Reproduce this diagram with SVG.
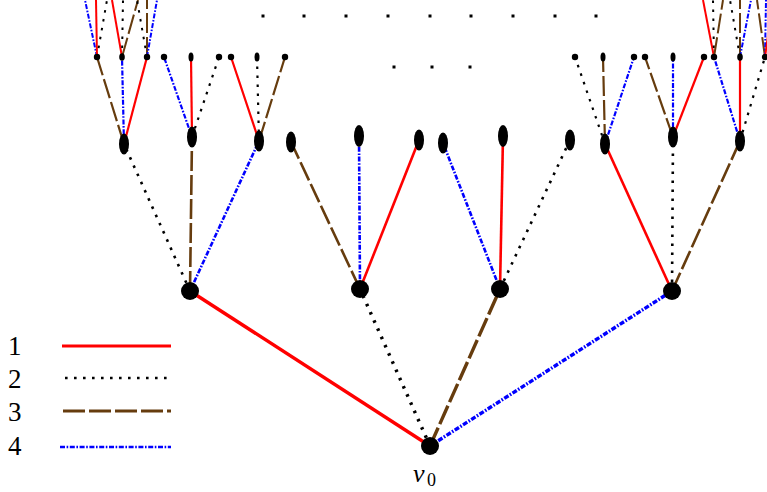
<svg xmlns="http://www.w3.org/2000/svg" width="767" height="492" viewBox="0 0 767 492">
<style>
.e{fill:none}
.red{stroke:#ff0000}
.dot{stroke:#000;stroke-dasharray:2.6 6.4}
.brn{stroke:#663c0e;stroke-dasharray:20 4}
.blu{stroke:#0000ff;stroke-dasharray:5 1.6 1.6 1.6}
.l1{stroke-width:3.4}
.l2{stroke-width:2.6}
.l3{stroke-width:2.2}
.l4{stroke-width:2}
.n{fill:#000}
</style>
<rect width="767" height="492" fill="#fff"/>
<g id="connectors" class="e">
<line class="red l1" x1="430" y1="446" x2="190" y2="291"/>
<line class="dot l1" x1="430" y1="446" x2="360" y2="289"/>
<line class="brn l1" x1="430" y1="446" x2="500" y2="289"/>
<line class="blu l1" x1="430" y1="446" x2="672" y2="291"/>
<line class="dot l2" x1="190" y1="291" x2="124" y2="144"/>
<line class="brn l2" x1="190" y1="291" x2="192" y2="137"/>
<line class="blu l2" x1="190" y1="291" x2="259" y2="141"/>
<line class="brn l2" x1="360" y1="289" x2="291" y2="142"/>
<line class="blu l2" x1="360" y1="289" x2="359" y2="136"/>
<line class="red l2" x1="360" y1="289" x2="419" y2="140"/>
<line class="blu l2" x1="500" y1="289" x2="443" y2="143"/>
<line class="red l2" x1="500" y1="289" x2="503" y2="136"/>
<line class="dot l2" x1="500" y1="289" x2="570" y2="140"/>
<line class="red l2" x1="672" y1="291" x2="605" y2="144"/>
<line class="dot l2" x1="672" y1="291" x2="673" y2="137"/>
<line class="brn l2" x1="672" y1="291" x2="740" y2="141"/>
<line class="brn l3" x1="124" y1="144" x2="97" y2="57"/>
<line class="blu l3" x1="124" y1="144" x2="122" y2="57"/>
<line class="red l3" x1="124" y1="144" x2="147" y2="57"/>
<line class="blu l3" x1="192" y1="137" x2="164" y2="57"/>
<line class="red l3" x1="192" y1="137" x2="191" y2="57"/>
<line class="dot l3" x1="192" y1="137" x2="219" y2="57"/>
<line class="red l3" x1="259" y1="141" x2="231" y2="57"/>
<line class="dot l3" x1="259" y1="141" x2="257" y2="57"/>
<line class="brn l3" x1="259" y1="141" x2="285" y2="57"/>
<line class="dot l3" x1="605" y1="144" x2="575" y2="57"/>
<line class="brn l3" x1="605" y1="144" x2="603" y2="57"/>
<line class="blu l3" x1="605" y1="144" x2="634" y2="57"/>
<line class="brn l3" x1="673" y1="137" x2="645" y2="57"/>
<line class="blu l3" x1="673" y1="137" x2="673" y2="57"/>
<line class="red l3" x1="673" y1="137" x2="704" y2="57"/>
<line class="blu l3" x1="740" y1="141" x2="714" y2="57"/>
<line class="red l3" x1="740" y1="141" x2="740" y2="57"/>
<line class="dot l3" x1="740" y1="141" x2="765" y2="57"/>
<line class="blu l4" x1="97" y1="57" x2="85" y2="0"/>
<line class="red l4" x1="97" y1="57" x2="96" y2="0"/>
<line class="dot l4" x1="97" y1="57" x2="107" y2="0"/>
<line class="red l4" x1="122" y1="57" x2="112" y2="0"/>
<line class="dot l4" x1="122" y1="57" x2="123" y2="0"/>
<line class="brn l4" x1="122" y1="57" x2="138" y2="0"/>
<line class="dot l4" x1="147" y1="57" x2="137" y2="0"/>
<line class="brn l4" x1="147" y1="57" x2="147" y2="0"/>
<line class="blu l4" x1="147" y1="57" x2="157" y2="0"/>
<line class="red l4" x1="714" y1="57" x2="703" y2="0"/>
<line class="dot l4" x1="714" y1="57" x2="713" y2="0"/>
<line class="brn l4" x1="714" y1="57" x2="723" y2="0"/>
<line class="dot l4" x1="740" y1="57" x2="730" y2="0"/>
<line class="brn l4" x1="740" y1="57" x2="740" y2="0"/>
<line class="blu l4" x1="740" y1="57" x2="751" y2="0"/>
<line class="brn l4" x1="765" y1="57" x2="757" y2="0"/>
<line class="blu l4" x1="765" y1="57" x2="766" y2="0"/>
<line class="red l4" x1="765" y1="57" x2="773" y2="0"/>
</g>
<g id="v0"><circle class="n" cx="430" cy="446" r="9"/></g>
<g id="nA"><circle class="n" cx="190" cy="291" r="9"/></g>
<g id="nB"><circle class="n" cx="360" cy="289" r="9"/></g>
<g id="nC"><circle class="n" cx="500" cy="289" r="9"/></g>
<g id="nD"><circle class="n" cx="672" cy="291" r="9"/></g>
<g id="nA1"><ellipse class="n" cx="124" cy="144" rx="5" ry="10.5"/></g>
<g id="nA2"><ellipse class="n" cx="192" cy="137" rx="5" ry="10.5"/></g>
<g id="nA3"><ellipse class="n" cx="259" cy="141" rx="5" ry="10.5"/></g>
<g id="nB1"><ellipse class="n" cx="291" cy="142" rx="5" ry="10.5"/></g>
<g id="nB2"><ellipse class="n" cx="359" cy="136" rx="5" ry="11"/></g>
<g id="nB3"><ellipse class="n" cx="419" cy="140" rx="5" ry="10.5"/></g>
<g id="nC1"><ellipse class="n" cx="443" cy="143" rx="5" ry="10.5"/></g>
<g id="nC2"><ellipse class="n" cx="503" cy="136" rx="5" ry="11"/></g>
<g id="nC3"><ellipse class="n" cx="570" cy="140" rx="5" ry="10.5"/></g>
<g id="nD1"><ellipse class="n" cx="605" cy="144" rx="5" ry="10.5"/></g>
<g id="nD2"><ellipse class="n" cx="673" cy="137" rx="5" ry="10.5"/></g>
<g id="nD3"><ellipse class="n" cx="740" cy="141" rx="5" ry="10.5"/></g>
<g id="nA1a"><circle class="n" cx="97" cy="57" r="3.2"/></g>
<g id="nA1b"><ellipse class="n" cx="122" cy="57" rx="2.8" ry="3.8"/></g>
<g id="nA1c"><circle class="n" cx="147" cy="57" r="3.2"/></g>
<g id="nA2a"><circle class="n" cx="164" cy="57" r="3.2"/></g>
<g id="nA2b"><ellipse class="n" cx="191" cy="57" rx="2.5" ry="4.5"/></g>
<g id="nA2c"><circle class="n" cx="219" cy="57" r="3.2"/></g>
<g id="nA3a"><circle class="n" cx="231" cy="57" r="3.2"/></g>
<g id="nA3b"><ellipse class="n" cx="257" cy="57" rx="2.5" ry="4.5"/></g>
<g id="nA3c"><circle class="n" cx="285" cy="57" r="3.2"/></g>
<g id="nD1a"><circle class="n" cx="575" cy="57" r="3.2"/></g>
<g id="nD1b"><ellipse class="n" cx="603" cy="57" rx="2.5" ry="4.5"/></g>
<g id="nD1c"><circle class="n" cx="634" cy="57" r="3.2"/></g>
<g id="nD2a"><circle class="n" cx="645" cy="57" r="3.2"/></g>
<g id="nD2b"><ellipse class="n" cx="673" cy="57" rx="2.5" ry="4.5"/></g>
<g id="nD2c"><circle class="n" cx="704" cy="57" r="3.2"/></g>
<g id="nD3a"><circle class="n" cx="714" cy="57" r="3.2"/></g>
<g id="nD3b"><ellipse class="n" cx="740" cy="57" rx="2.8" ry="3.8"/></g>
<g id="nD3c"><circle class="n" cx="765" cy="57" r="3.2"/></g>
<g id="ellipsis" class="n">
<rect x="261.5" y="14.5" width="3" height="3"/>
<rect x="302.5" y="14.5" width="3" height="3"/>
<rect x="344.5" y="14.5" width="3" height="3"/>
<rect x="386.5" y="14.5" width="3" height="3"/>
<rect x="428.5" y="14.5" width="3" height="3"/>
<rect x="469.5" y="14.5" width="3" height="3"/>
<rect x="511.5" y="14.5" width="3" height="3"/>
<rect x="553.5" y="14.5" width="3" height="3"/>
<rect x="594.5" y="14.5" width="3" height="3"/>
<rect x="392.5" y="65.5" width="3" height="3"/>
<rect x="430.5" y="65.5" width="3" height="3"/>
<rect x="468.5" y="65.5" width="3" height="3"/>
</g>
<g id="label-v0" font-family="'Liberation Serif', 'DejaVu Serif', serif" fill="#000"><text x="413" y="482" font-size="26" font-style="italic">v</text><text x="427" y="486" font-size="18">0</text></g>
<g id="legend">
<g font-family="'Liberation Serif', 'DejaVu Serif', serif" font-size="27" fill="#000">
<text x="8" y="355">1</text>
<text x="8" y="388">2</text>
<text x="8" y="421">3</text>
<text x="8" y="455">4</text>
</g>
<line class="red" stroke-width="3" x1="62" y1="346" x2="171" y2="346"/>
<line class="dot" stroke-width="2.6" x1="65" y1="378" x2="167" y2="378"/>
<line class="brn" stroke-width="3" x1="63" y1="411" x2="171" y2="411" style="stroke-dasharray:22 4"/>
<line class="blu" stroke-width="2.5" x1="60" y1="447" x2="171" y2="447"/>
</g>
</svg>
